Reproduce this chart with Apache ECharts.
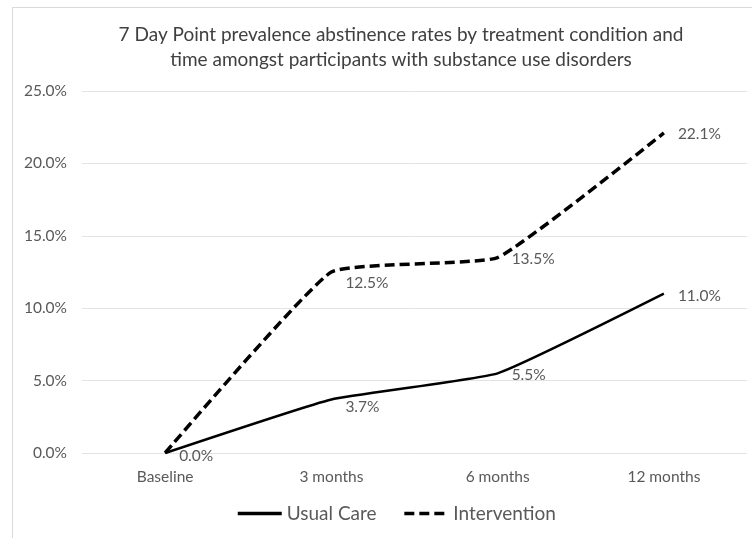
<!DOCTYPE html>
<html>
<head>
<meta charset="utf-8">
<script src="https://cdn.jsdelivr.net/npm/echarts@6/dist/echarts.min.js"></script>
<style>
  html, body { margin: 0; padding: 0; background: #fff; }
  #chart { width: 752px; height: 538px; }
</style>
</head>
<body>
<div id="chart"></div>
<script>
// data
var categories = ['Baseline', '3 months', '6 months', '12 months'];
var usualCare = [0.0, 3.7, 5.5, 11.0];
var intervention = [0.0, 12.5, 13.5, 22.1];
var yTicks = [0, 5, 10, 15, 20, 25];

var font = 'Lato, "Open Sans", sans-serif';
var grey = '#595959';

function withOffsets(values, offsets) {
  return values.map(function (v, i) {
    return { value: v, label: { offset: offsets[i] || [0, 0] } };
  });
}

var chart = echarts.init(document.getElementById('chart'));

var option = {
  animation: false,
  textStyle: { fontFamily: font },
  title: {
    text: '7 Day Point prevalence abstinence rates by treatment condition and\ntime amongst participants with substance use disorders',
    left: 396,
    textAlign: 'center',
    top: 17,
    textStyle: { fontFamily: font, fontSize: 19, fontWeight: 'normal', color: '#404040', lineHeight: 25 }
  },
  graphic: [{
    type: 'rect',
    shape: { x: 12.5, y: 7.5, width: 800, height: 600 },
    style: { fill: 'none', stroke: '#d9d9d9', lineWidth: 1 },
    silent: true,
    z: -1
  }],
  grid: { left: 82, right: 5, top: 91, bottom: 85 },
  legend: {
    top: 499,
    left: 231,
    itemWidth: 44,
    itemHeight: 12,
    itemGap: 26,
    itemStyle: { opacity: 0 },
    lineStyle: { width: 3.5 },
    textStyle: { fontFamily: font, fontSize: 19, color: grey },
    data: ['Usual Care', 'Intervention']
  },
  xAxis: {
    type: 'category',
    data: categories,
    boundaryGap: true,
    axisLine: { show: false },
    axisTick: { show: false },
    axisLabel: { color: grey, fontSize: 15.5, margin: 16, fontFamily: font }
  },
  yAxis: {
    type: 'value',
    min: 0,
    max: yTicks[yTicks.length - 1],
    interval: 5,
    axisLine: { show: false },
    axisTick: { show: false },
    splitLine: { lineStyle: { color: '#e3e3e3', width: 1 } },
    axisLabel: {
      color: grey, fontSize: 15.5, margin: 15, fontFamily: font,
      formatter: function (v) { return v.toFixed(1) + '%'; }
    }
  },
  series: [
    {
      name: 'Usual Care',
      type: 'line',
      smooth: 0.12,
      symbol: 'circle',
      symbolSize: 0,
      showSymbol: true,
      lineStyle: { color: '#000', width: 2.5 },
      itemStyle: { color: '#000' },
      data: withOffsets(usualCare, [[0, 3], [0, 8], [0, 2], [0, 2]]),
      label: {
        show: true,
        position: 'right',
        distance: 14,
        color: grey,
        fontSize: 15.5,
        fontFamily: font,
        formatter: function (p) { return p.value.toFixed(1) + '%'; }
      }
    },
    {
      name: 'Intervention',
      type: 'line',
      smooth: 0.12,
      symbol: 'circle',
      symbolSize: 0,
      showSymbol: true,
      lineStyle: { color: '#000', width: 3.5, type: [10, 5] },
      itemStyle: { color: '#000' },
      data: withOffsets(intervention, [[0, 0], [0, 11], [0, 1], [0, 1]]),
      label: {
        show: true,
        position: 'right',
        distance: 14,
        color: grey,
        fontSize: 15.5,
        fontFamily: font,
        formatter: function (p) {
          return p.dataIndex === 0 ? '' : p.value.toFixed(1) + '%';
        }
      }
    }
  ]
};

chart.setOption(option);
</script>
</body>
</html>
